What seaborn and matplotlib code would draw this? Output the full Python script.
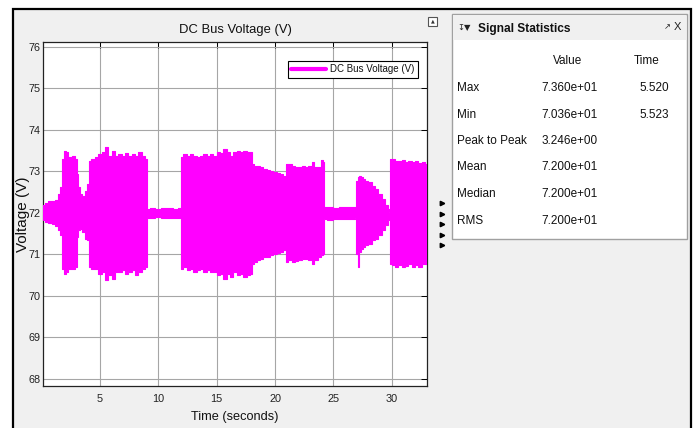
import numpy as np
import pandas as pd
import matplotlib
matplotlib.use("Agg")
import matplotlib.pyplot as plt
from matplotlib.patches import Rectangle
from matplotlib.lines import Line2D
import seaborn as sns

# ---------------- data (envelope of the DC bus voltage read from the scope) ----------------
time_s = [0.12, 0.43, 0.71, 1.00, 1.29, 1.51, 1.66, 1.77, 2.00, 2.14, 2.43, 2.71, 2.94,
          3.09, 3.23, 3.43, 3.57, 3.80, 4.00, 4.14, 4.29, 4.43, 4.71, 5.00, 5.29, 5.52,
          5.86, 6.14, 6.43, 6.71, 7.00, 7.29, 7.57, 7.86, 8.14, 8.43, 8.71, 9.00,
          9.06, 9.50, 10.00, 10.50, 11.00, 11.50, 11.86,
          12.00, 12.29, 12.57, 12.86, 13.14, 13.43, 13.71, 14.00, 14.29, 14.57, 14.86,
          15.14, 15.43, 15.71, 16.00, 16.29, 16.57, 16.86, 17.14, 17.43, 17.71, 18.00,
          18.14, 18.29, 18.57, 18.86, 19.14, 19.43, 19.71, 20.00, 20.29, 20.57, 20.86,
          21.00, 21.29, 21.57, 21.86, 22.14, 22.43, 22.71, 23.00, 23.29, 23.43, 23.57,
          23.86, 24.00, 24.14,
          24.23, 24.70, 25.20, 25.70, 26.20, 26.70, 26.95,
          27.00, 27.14, 27.29, 27.43, 27.57, 27.86, 28.14, 28.43, 28.71, 29.00, 29.29,
          29.57, 29.71, 29.85,
          29.94, 30.14, 30.43, 30.71, 31.00, 31.29, 31.57, 31.86, 32.14, 32.43, 32.71, 33.05]

upper_v = [72.18, 72.24, 72.28, 72.30, 72.32, 72.46, 72.62, 73.30, 73.50, 73.46, 73.34, 73.38, 73.30,
           72.94, 72.62, 72.46, 72.42, 72.54, 72.70, 73.26, 73.30, 73.30, 73.34, 73.42, 73.46, 73.60,
           73.38, 73.50, 73.38, 73.42, 73.38, 73.44, 73.38, 73.42, 73.38, 73.46, 73.38, 73.30,
           72.10, 72.12, 72.10, 72.11, 72.12, 72.10, 72.12,
           73.34, 73.41, 73.38, 73.42, 73.38, 73.36, 73.38, 73.41, 73.38, 73.42, 73.38,
           73.46, 73.44, 73.54, 73.46, 73.38, 73.46, 73.50, 73.46, 73.50, 73.46, 73.48,
           73.18, 73.14, 73.14, 73.10, 73.06, 73.04, 73.02, 72.98, 72.96, 72.94, 72.90,
           73.18, 73.18, 73.14, 73.10, 73.10, 73.12, 73.10, 73.14, 73.22, 73.10, 73.10,
           73.10, 73.28, 73.22,
           72.14, 72.15, 72.13, 72.14, 72.15, 72.14, 72.14,
           72.78, 72.86, 72.88, 72.86, 72.82, 72.78, 72.74, 72.66, 72.58, 72.46, 72.34,
           72.18, 72.10, 72.10,
           73.30, 73.30, 73.26, 73.26, 73.28, 73.22, 73.25, 73.22, 73.26, 73.20, 73.22, 73.18]

lower_v = [71.82, 71.78, 71.76, 71.74, 71.68, 71.58, 71.46, 70.66, 70.54, 70.58, 70.66, 70.66, 70.70,
           71.42, 71.58, 71.62, 71.54, 71.38, 71.34, 70.70, 70.66, 70.66, 70.66, 70.54, 70.58, 70.38,
           70.50, 70.42, 70.58, 70.58, 70.62, 70.54, 70.58, 70.62, 70.50, 70.58, 70.66, 70.70,
           71.89, 71.88, 71.90, 71.88, 71.89, 71.88, 71.89,
           70.66, 70.70, 70.62, 70.66, 70.58, 70.62, 70.66, 70.58, 70.62, 70.58, 70.58,
           70.50, 70.54, 70.42, 70.54, 70.46, 70.58, 70.50, 70.54, 70.46, 70.50, 70.54,
           70.78, 70.82, 70.86, 70.90, 70.93, 70.94, 70.98, 71.02, 71.04, 71.06, 71.10,
           70.82, 70.86, 70.82, 70.85, 70.86, 70.88, 70.90, 70.86, 70.78, 70.86, 70.86,
           70.94, 70.98, 71.02,
           71.85, 71.84, 71.86, 71.85, 71.85, 71.86, 71.87,
           71.02, 70.70, 71.06, 71.14, 71.18, 71.22, 71.26, 71.34, 71.38, 71.46, 71.58,
           71.70, 71.82, 72.02,
           70.78, 70.74, 70.70, 70.74, 70.70, 70.72, 70.77, 70.70, 70.74, 70.70, 70.77, 70.78]

x_ticks = [5, 10, 15, 20, 25, 30]
y_ticks = [68, 69, 70, 71, 72, 73, 74, 75, 76]

stat_names = ["Max", "Min", "Peak to Peak", "Mean", "Median", "RMS"]
stat_values = ["7.360e+01", "7.036e+01", "3.246e+00", "7.200e+01", "7.200e+01", "7.200e+01"]
stat_times = ["5.520", "5.523", "", "", "", ""]

series_name = "DC Bus Voltage (V)"
magenta = "#ff00ff"

# ---------------- figure ----------------
sns.set_theme(style="white")
plt.rcParams["font.family"] = ["Liberation Sans", "DejaVu Sans"]

W, H = 696, 428
fig = plt.figure(figsize=(W / 100, H / 100), dpi=100, facecolor="white")

# background / UI layer in pixel coordinates
bg = fig.add_axes([0, 0, 1, 1], zorder=0)
bg.set_xlim(0, W)
bg.set_ylim(H, 0)
bg.axis("off")
bg.add_patch(Rectangle((13, 9), 678, 430, facecolor="#f0f0f0", edgecolor="black", lw=1.6))

# small icon at top-right of plot
bg.add_patch(Rectangle((428, 17), 9, 9, facecolor="white", edgecolor="#555555", lw=0.8))
bg.text(432.5, 21, "▲", fontsize=3.5, ha="center", va="center", color="#333333",
        family=["DejaVu Sans"])

# little expand triangles
for yy in [203, 213.5, 224, 234.5, 245]:
    bg.plot([442], [yy], marker=">", ms=3.2, color="black", mec="black")

# Signal statistics panel
bg.add_patch(Rectangle((452, 14), 235, 225, facecolor="white", edgecolor="#a0a0a0", lw=1.0))
bg.add_patch(Rectangle((452.6, 14.6), 233.8, 25.5, facecolor="#f0f0f0", edgecolor="none"))
bg.text(457, 28, "↧▼", fontsize=6, ha="left", va="center", color="#222222",
        family=["DejaVu Sans"])
bg.text(478, 28.5, "Signal Statistics", fontsize=8.6, fontweight="bold", ha="left",
        va="center", color="#111111")
bg.text(664, 27, "↗", fontsize=6, ha="left", va="center", color="#222222",
        family=["DejaVu Sans"])
bg.text(674, 27, "X", fontsize=8, ha="left", va="center", color="#222222")

bg.text(568, 61, "Value", fontsize=8.5, ha="center", va="center", color="#111111")
bg.text(647, 61, "Time", fontsize=8.5, ha="center", va="center", color="#111111")
row_y = [88, 114.5, 141, 167.5, 194, 221]
for name, val, tm, yy in zip(stat_names, stat_values, stat_times, row_y):
    bg.text(457, yy, name, fontsize=8.5, ha="left", va="center", color="#111111")
    bg.text(541.5, yy, val, fontsize=8.5, ha="left", va="center", color="#111111")
    if tm:
        bg.text(639, yy, tm, fontsize=8.5, ha="left", va="center", color="#111111")

# ---------------- main scope axes ----------------
left, right, top, bottom = 43, 427.3, 42, 386
ax = fig.add_axes([left / W, 1 - bottom / H, (right - left) / W, (bottom - top) / H], zorder=2)
ax.set_facecolor("white")

df = pd.DataFrame({
    "t": time_s * 2,
    "v": upper_v + lower_v,
    "edge": ["upper"] * len(time_s) + ["lower"] * len(time_s),
})
ax.fill_between(time_s, lower_v, upper_v, step="mid", color=magenta, lw=0, zorder=3)
sns.lineplot(data=df, x="t", y="v", units="edge", estimator=None, color=magenta,
             drawstyle="steps-mid", lw=0.8, legend=False, ax=ax, zorder=3)

ax.set_xlim(0.12, 33.05)
ax.set_ylim(67.83, 76.12)
ax.set_xticks(x_ticks)
ax.set_yticks(y_ticks)
ax.set_xticklabels([str(v) for v in x_ticks])
ax.set_yticklabels([str(v) for v in y_ticks])
ax.grid(True, color="#a6a6a6", lw=0.8, zorder=1)
ax.set_axisbelow(True)
ax.tick_params(axis="both", direction="in", length=4, width=0.7, color="black",
               top=True, right=True, labelsize=7.8, labelcolor="#222222")
ax.tick_params(axis="y", pad=1.5)
ax.tick_params(axis="x", pad=6)
for s in ax.spines.values():
    s.set_color("#222222")
    s.set_linewidth(0.9)

ax.set_title("DC Bus Voltage (V)", fontsize=9.4, color="#111111", pad=6.5)
ax.set_xlabel("Time (seconds)", fontsize=9.2, color="#111111")
ax.xaxis.set_label_coords(0.5, -0.074)
ax.set_ylabel("Voltage (V)", fontsize=11, color="#111111")
ax.yaxis.set_label_coords(-0.034, 0.5)

handle = Line2D([0], [0], color=magenta, lw=3)
leg = ax.legend([handle], [series_name], loc="upper right", bbox_to_anchor=(0.976, 0.945),
                borderaxespad=0, fontsize=7, handlelength=3.6, handletextpad=0.4,
                borderpad=0.35, fancybox=False, framealpha=1, edgecolor="black")
leg.get_frame().set_linewidth(0.8)
for txt in leg.get_texts():
    txt.set_color("#111111")

fig.savefig("out.png", dpi=100, facecolor="white")
